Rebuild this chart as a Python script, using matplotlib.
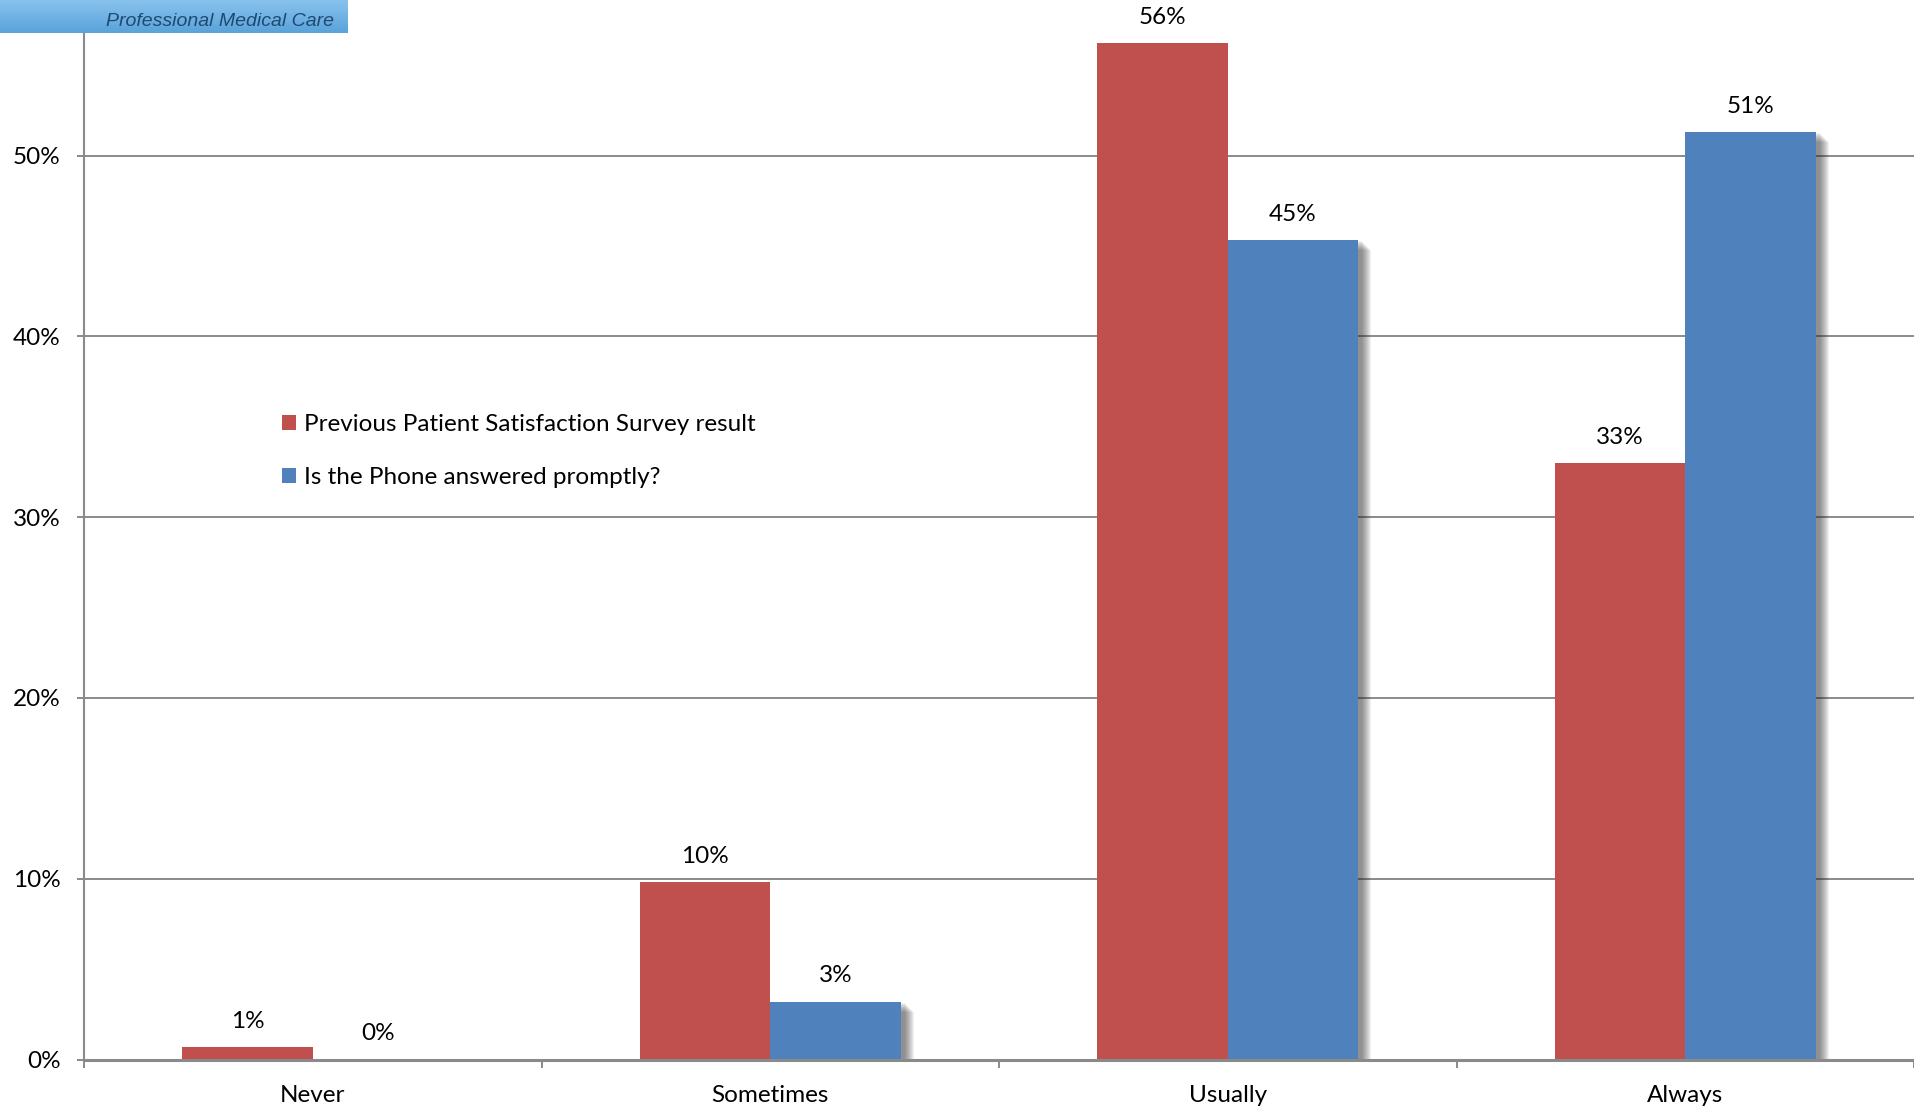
"""
Grouped bar chart: phone answering survey vs previous satisfaction survey.
"""
import matplotlib
matplotlib.use("Agg")
import matplotlib.pyplot as plt
from matplotlib.patches import Rectangle
import numpy as np

categories = ["Never", "Sometimes", "Usually", "Always"]
previous_result = [0.7, 9.8, 56.2, 33.0]
phone_answered = [0.0, 3.2, 45.3, 51.3]
series_names = ["Previous Patient Satisfaction Survey result",
                "Is the Phone answered promptly?"]
y_ticks = [0, 10, 20, 30, 40, 50]

RED = "#C0504D"
BLUE = "#4F81BD"
GRID = "#8a8a8a"
FS = 17.5

plt.rcParams['font.family'] = ['Lato', 'DejaVu Sans']

fig = plt.figure(figsize=(19.14, 11.12), dpi=100)
ax = fig.add_axes([0.0439, 0.0471, 0.9561, 0.9529])

x = np.arange(len(categories))
w = 0.285
ax.set_xlim(-0.5, len(categories) - 0.5)
ax.set_ylim(0, 58.6)

red_bars = ax.bar(x - w / 2, previous_result, w, color=RED, zorder=3,
                  label=series_names[0])
blue_bars = ax.bar(x + w / 2, phone_answered, w, color=BLUE, zorder=3,
                   label=series_names[1])

# soft drop shadow behind the blue bars, built from stacked translucent boxes
inv = ax.transData.inverted()
px_x = inv.transform((1, 0))[0] - inv.transform((0, 0))[0]
px_y = inv.transform((0, 0))[1] - inv.transform((0, 1))[1]
for bar in blue_bars:
    h = bar.get_height()
    if h <= 0:
        continue
    x0 = bar.get_x()
    for k in range(1, 11):
        ax.add_patch(Rectangle((x0 + 5 * px_x, 0), bar.get_width() + (k - 2) * px_x,
                               h + k * px_y, facecolor="#303030", alpha=0.07,
                               edgecolor="none", zorder=2))

# value labels
for bars in (red_bars, blue_bars):
    for bar in bars:
        h = bar.get_height()
        ax.annotate(f"{h:.0f}%", (bar.get_x() + bar.get_width() / 2, h),
                    xytext=(0, 11), textcoords="offset points",
                    ha="center", va="bottom", fontsize=FS, zorder=5)

ax.set_yticks(y_ticks)
ax.set_yticklabels([f"{t}%" for t in y_ticks], fontsize=FS)
ax.yaxis.grid(True, color=GRID, linewidth=1.4, zorder=0)
ax.set_axisbelow(True)

ax.set_xticks(np.arange(-0.5, len(categories)))
ax.set_xticklabels([])
ax.set_xticks(x, minor=True)
ax.set_xticklabels(categories, minor=True, fontsize=FS)
ax.tick_params(axis="x", which="minor", length=0, pad=18)
ax.tick_params(axis="x", which="major", length=6, width=1.4, color=GRID)
ax.tick_params(axis="y", length=5, width=1.4, color=GRID, pad=12)

for side in ("top", "right"):
    ax.spines[side].set_visible(False)
ax.spines["left"].set_color(GRID)
ax.spines["left"].set_linewidth(1.5)
ax.spines["bottom"].set_color(GRID)
ax.spines["bottom"].set_linewidth(2.2)
ax.spines["bottom"].set_zorder(4)

ax.legend(loc="upper left", bbox_to_anchor=(0.108, 0.609), frameon=False,
          fontsize=FS, handlelength=0.6, handleheight=0.6, handletextpad=0.3,
          labelspacing=1.3, borderpad=0, borderaxespad=0)

# header badge in the top left corner
badge = fig.add_axes([0, 1 - 33 / 1112, 348 / 1914, 33 / 1112])
grad = np.linspace(0, 1, 50).reshape(-1, 1)
badge.imshow(grad, aspect="auto", extent=(0, 1, 0, 1),
             cmap=matplotlib.colors.LinearSegmentedColormap.from_list(
                 "badge", ["#88c2ee", "#5aa3da"]))
badge.text(0.96, 0.2, "Professional Medical Care", ha="right", va="baseline",
           fontsize=14, style="italic", color="#1e4a72",
           family=["Liberation Sans", "DejaVu Sans"], transform=badge.transAxes)
badge.set_axis_off()

fig.savefig("out.png", dpi=100)
